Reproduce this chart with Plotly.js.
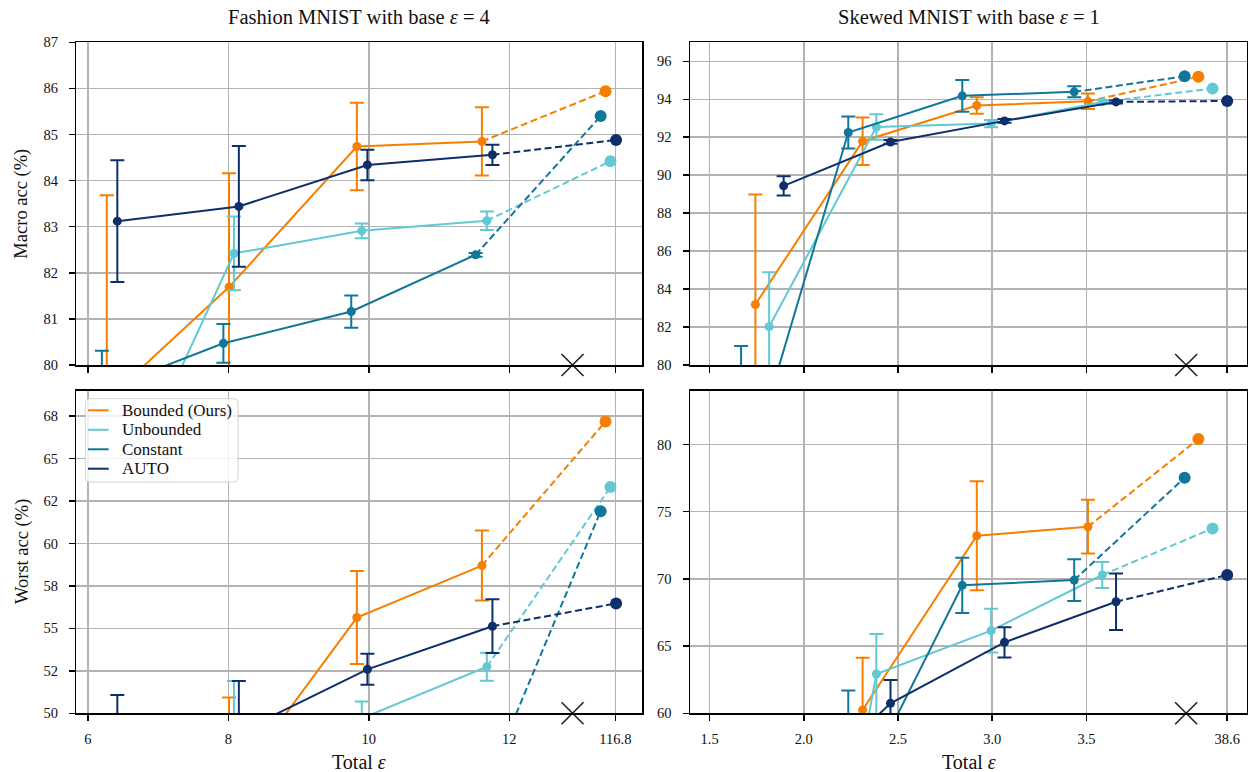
<!DOCTYPE html>
<html><head><meta charset="utf-8">
<script src="https://cdn.plot.ly/plotly-3.0.1.min.js"></script>
<style>html,body{margin:0;padding:0;background:#fff}#chart{width:1248px;height:772px}</style>
</head><body><div id="chart"></div>
<script>
// ---------------- data ----------------
const methodNames  = ["Bounded (Ours)", "Unbounded", "Constant", "AUTO"];
const methodColors = ["#f77f00", "#62c8d3", "#11779a", "#0d2f6b"];

// Fashion MNIST (base eps = 4): total eps per point; the last point sits in the "116.8" slot after the axis break
const fashionEpsBounded   = [6.27, 8.01, 9.83, 11.61, 13.37];
const fashionEpsUnbounded = [6.35, 8.08, 9.90, 11.68, 13.44];
const fashionEpsConstant  = [6.20, 7.93, 9.75, 11.52, 13.30];
const fashionEpsAuto      = [6.42, 8.15, 9.98, 11.76, 13.52];

const fashionMacroBounded   = [79.24, 81.69, 84.74, 84.85, 85.94];
const fashionMacroUnbounded = [76.70, 82.42, 82.91, 83.13, 84.42];
const fashionMacroConstant  = [79.45, 80.47, 81.16, 82.39, 85.40];
const fashionMacroAuto      = [83.12, 83.44, 84.34, 84.56, 84.88];
const fashionMacroErrBounded   = [4.44, 2.47, 0.95, 0.74, 0];
const fashionMacroErrUnbounded = [1.00, 0.80, 0.16, 0.20, 0];
const fashionMacroErrConstant  = [0.86, 0.42, 0.35, 0.04, 0];
const fashionMacroErrAuto      = [1.32, 1.31, 0.33, 0.22, 0];

const fashionWorstBounded   = [42.0, 45.43, 55.64, 58.70, 67.19];
const fashionWorstUnbounded = [40.0, 47.40, 49.70, 52.74, 63.33];
const fashionWorstConstant  = [38.0, 40.0, 42.0, 44.25, 61.90];
const fashionWorstAuto      = [47.5, 48.88, 52.59, 55.13, 56.47];
const fashionWorstErrBounded   = [3.0, 5.50, 2.74, 2.06, 0];
const fashionWorstErrUnbounded = [2.0, 4.50, 0.99, 0.83, 0];
const fashionWorstErrConstant  = [2.0, 2.0, 2.0, 2.0, 0];
const fashionWorstErrAuto      = [3.58, 3.02, 0.91, 1.58, 0];

// Skewed MNIST (base eps = 1): last point sits in the "38.6" slot after the axis break
const skewedEpsBounded   = [1.743, 2.312, 2.918, 3.508, 4.094];
const skewedEpsUnbounded = [1.816, 2.385, 2.994, 3.584, 4.169];
const skewedEpsConstant  = [1.667, 2.236, 2.841, 3.435, 4.021];
const skewedEpsAuto      = [1.893, 2.460, 3.065, 3.657, 4.247];

const skewedMacroBounded   = [83.19, 91.79, 93.67, 93.89, 95.18];
const skewedMacroUnbounded = [82.02, 92.54, 92.72, 93.86, 94.56];
const skewedMacroConstant  = [73.20, 92.25, 94.18, 94.39, 95.21];
const skewedMacroAuto      = [89.44, 91.75, 92.86, 93.86, 93.91];
const skewedMacroErrBounded   = [5.79, 1.25, 0.44, 0.41, 0];
const skewedMacroErrUnbounded = [2.86, 0.67, 0.19, 0.10, 0];
const skewedMacroErrConstant  = [7.80, 0.84, 0.84, 0.29, 0];
const skewedMacroErrAuto      = [0.51, 0.10, 0.10, 0.08, 0];

const skewedWorstBounded   = [45.0, 60.25, 73.21, 73.88, 80.40];
const skewedWorstUnbounded = [20.0, 62.92, 66.15, 70.29, 73.75];
const skewedWorstConstant  = [30.0, 52.60, 69.52, 69.91, 77.52];
const skewedWorstAuto      = [53.2, 60.74, 65.28, 68.30, 70.29];
const skewedWorstErrBounded   = [3.0, 3.89, 4.05, 2.00, 0];
const skewedWorstErrUnbounded = [2.0, 2.98, 1.63, 0.97, 0];
const skewedWorstErrConstant  = [3.0, 9.10, 2.05, 1.55, 0];
const skewedWorstErrAuto      = [2.0, 1.74, 1.13, 2.10, 0];

// tick labels
const fashionTickVals = [6, 8, 10, 12, 13.51];
const fashionTickText = ["6", "8", "10", "12", "116.8"];
const skewedTickVals  = [1.5, 2.0, 2.5, 3.0, 3.5, 4.247];
const skewedTickText  = ["1.5", "2.0", "2.5", "3.0", "3.5", "38.6"];
const fashionBreak = 12.90;
const skewedBreak  = 4.029;

const fashionMacroTicks = [80, 81, 82, 83, 84, 85, 86, 87];
const skewedMacroTicks  = [80, 82, 84, 86, 88, 90, 92, 94, 96];
const fashionWorstTickVals = [50, 52.5, 55, 57.5, 60, 62.5, 65, 67.5];
const fashionWorstTickText = ["50", "52", "55", "58", "60", "62", "65", "68"];
const skewedWorstTicks  = [60, 65, 70, 75, 80];

const panelTitles = ["Fashion MNIST with base <i>ε</i> = 4", "Skewed MNIST with base <i>ε</i> = 1"];

// ---------------- build ----------------
const FONT = "Liberation Serif, Times New Roman, serif";
const W = 1248, H = 772;
const px = v => v / W, py = v => 1 - v / H;
const traces = [];

function addSeries(xs, ys, errs, color, xa, ya) {
  traces.push({
    x: xs.slice(0, 4), y: ys.slice(0, 4), xaxis: xa, yaxis: ya,
    type: "scatter", mode: "lines+markers", showlegend: false, hoverinfo: "skip",
    line: {color: color, width: 2}, marker: {color: color, size: 9, opacity: 1, line: {width: 0}},
    error_y: {type: "data", array: errs.slice(0, 4), visible: true, color: color, thickness: 2, width: 7}
  });
  traces.push({
    x: xs.slice(3, 5), y: ys.slice(3, 5), xaxis: xa, yaxis: ya,
    type: "scatter", mode: "lines", showlegend: false, hoverinfo: "skip",
    line: {color: color, width: 2, dash: "7px,3.5px"}
  });
  traces.push({
    x: xs.slice(4, 5), y: ys.slice(4, 5), xaxis: xa, yaxis: ya,
    type: "scatter", mode: "markers", showlegend: false, hoverinfo: "skip",
    marker: {color: color, size: 12, opacity: 1, line: {width: 0}}
  });
}

const panels = [
  {xa: "x",  ya: "y",  eps: [fashionEpsBounded, fashionEpsUnbounded, fashionEpsConstant, fashionEpsAuto],
   v: [fashionMacroBounded, fashionMacroUnbounded, fashionMacroConstant, fashionMacroAuto],
   e: [fashionMacroErrBounded, fashionMacroErrUnbounded, fashionMacroErrConstant, fashionMacroErrAuto],
   brk: fashionBreak, ymin: 80},
  {xa: "x2", ya: "y2", eps: [skewedEpsBounded, skewedEpsUnbounded, skewedEpsConstant, skewedEpsAuto],
   v: [skewedMacroBounded, skewedMacroUnbounded, skewedMacroConstant, skewedMacroAuto],
   e: [skewedMacroErrBounded, skewedMacroErrUnbounded, skewedMacroErrConstant, skewedMacroErrAuto],
   brk: skewedBreak, ymin: 80},
  {xa: "x3", ya: "y3", eps: [fashionEpsBounded, fashionEpsUnbounded, fashionEpsConstant, fashionEpsAuto],
   v: [fashionWorstBounded, fashionWorstUnbounded, fashionWorstConstant, fashionWorstAuto],
   e: [fashionWorstErrBounded, fashionWorstErrUnbounded, fashionWorstErrConstant, fashionWorstErrAuto],
   brk: fashionBreak, ymin: 50},
  {xa: "x4", ya: "y4", eps: [skewedEpsBounded, skewedEpsUnbounded, skewedEpsConstant, skewedEpsAuto],
   v: [skewedWorstBounded, skewedWorstUnbounded, skewedWorstConstant, skewedWorstAuto],
   e: [skewedWorstErrBounded, skewedWorstErrUnbounded, skewedWorstErrConstant, skewedWorstErrAuto],
   brk: skewedBreak, ymin: 60}
];

panels.forEach(p => {
  for (let m = 0; m < 4; m++) addSeries(p.eps[m], p.v[m], p.e[m], methodColors[m], p.xa, p.ya);
  traces.push({
    x: [p.brk], y: [p.ymin], xaxis: p.xa, yaxis: p.ya, type: "scatter", mode: "markers",
    showlegend: false, hoverinfo: "skip", cliponaxis: false,
    marker: {symbol: "x-thin", size: 22, color: "#222", line: {color: "#222", width: 1.6}}
  });
});

const axisBase = {
  showline: true, linecolor: "#000", linewidth: 1.5, mirror: true,
  ticks: "outside", ticklen: 6, tickwidth: 1.5, tickcolor: "#000",
  showgrid: true, gridcolor: "#b3b3b3", gridwidth: 1.5, zeroline: false,
  tickfont: {family: FONT, size: 14.5, color: "#111"}, fixedrange: true
};
function ax(extra) { return Object.assign({}, axisBase, extra); }

const colL = [px(76.3), px(642)];
const colR = [px(690), px(1247)];
const rowT = [py(365), py(42.3)];
const rowB = [py(713.3), py(390.7)];

// legend (matplotlib-style box inside the lower-left panel)
const legBox = {x0: 85.3, x1: 238, y0: 398.7, y1: 482, r: 4};
const legRows = [410.3, 429.8, 449.3, 468.7];
const shapes = [];
const annotations = [];
{
  const b = legBox, r = b.r;
  const path = `M ${px(b.x0 + r)} ${py(b.y0)} L ${px(b.x1 - r)} ${py(b.y0)} Q ${px(b.x1)} ${py(b.y0)} ${px(b.x1)} ${py(b.y0 + r)} ` +
    `L ${px(b.x1)} ${py(b.y1 - r)} Q ${px(b.x1)} ${py(b.y1)} ${px(b.x1 - r)} ${py(b.y1)} L ${px(b.x0 + r)} ${py(b.y1)} ` +
    `Q ${px(b.x0)} ${py(b.y1)} ${px(b.x0)} ${py(b.y1 - r)} L ${px(b.x0)} ${py(b.y0 + r)} Q ${px(b.x0)} ${py(b.y0)} ${px(b.x0 + r)} ${py(b.y0)} Z`;
  shapes.push({type: "path", xref: "paper", yref: "paper", path: path, fillcolor: "rgba(255,255,255,0.8)",
    line: {color: "#d4d4d4", width: 1}, layer: "above"});
  methodNames.forEach((name, m) => {
    shapes.push({type: "line", xref: "paper", yref: "paper", x0: px(88), x1: px(108.7), y0: py(legRows[m]), y1: py(legRows[m]),
      line: {color: methodColors[m], width: 2}, layer: "above"});
    annotations.push({text: name, xref: "paper", yref: "paper", x: px(120), y: py(legRows[m]), xanchor: "left", yanchor: "middle",
      showarrow: false, font: {family: FONT, size: 17, color: "#111"}});
  });
}

const titleFont = {family: FONT, size: 20.5, color: "#111"};
annotations.push(
  {text: panelTitles[0], xref: "paper", yref: "paper", x: (colL[0] + colL[1]) / 2, y: py(17), xanchor: "center", yanchor: "middle", showarrow: false, font: titleFont},
  {text: panelTitles[1], xref: "paper", yref: "paper", x: (colR[0] + colR[1]) / 2, y: py(17), xanchor: "center", yanchor: "middle", showarrow: false, font: titleFont},
  {text: "Total <i>ε</i>", xref: "paper", yref: "paper", x: (colL[0] + colL[1]) / 2, y: py(762), xanchor: "center", yanchor: "middle", showarrow: false, font: {family: FONT, size: 20, color: "#111"}},
  {text: "Total <i>ε</i>", xref: "paper", yref: "paper", x: (colR[0] + colR[1]) / 2, y: py(762), xanchor: "center", yanchor: "middle", showarrow: false, font: {family: FONT, size: 20, color: "#111"}},
  {text: "Macro acc (%)", xref: "paper", yref: "paper", x: px(22), y: (rowT[0] + rowT[1]) / 2, xanchor: "center", yanchor: "middle", textangle: -90, showarrow: false, font: {family: FONT, size: 18.5, color: "#111"}},
  {text: "Worst acc (%)", xref: "paper", yref: "paper", x: px(22), y: (rowB[0] + rowB[1]) / 2, xanchor: "center", yanchor: "middle", textangle: -90, showarrow: false, font: {family: FONT, size: 18.5, color: "#111"}}
);

const layout = {
  width: W, height: H, margin: {l: 0, r: 0, t: 0, b: 0},
  paper_bgcolor: "#fff", plot_bgcolor: "#fff",
  font: {family: FONT, color: "#111"}, showlegend: false,
  xaxis:  ax({domain: colL, anchor: "y",  range: [5.836, 13.889], tickvals: fashionTickVals, ticktext: fashionTickText, showticklabels: false}),
  yaxis:  ax({domain: rowT, anchor: "x",  range: [80, 87], tickvals: fashionMacroTicks, ticklabelstandoff: 8}),
  xaxis2: ax({domain: colR, anchor: "y2", range: [1.396, 4.352], tickvals: skewedTickVals, ticktext: skewedTickText, showticklabels: false}),
  yaxis2: ax({domain: rowT, anchor: "x2", range: [80, 97], tickvals: skewedMacroTicks, ticklabelstandoff: 8}),
  xaxis3: ax({domain: colL, anchor: "y3", range: [5.836, 13.889], tickvals: fashionTickVals, ticktext: fashionTickText, ticklabelstandoff: 6}),
  yaxis3: ax({domain: rowB, anchor: "x3", range: [50, 69], tickvals: fashionWorstTickVals, ticktext: fashionWorstTickText, ticklabelstandoff: 8}),
  xaxis4: ax({domain: colR, anchor: "y4", range: [1.396, 4.352], tickvals: skewedTickVals, ticktext: skewedTickText, ticklabelstandoff: 6}),
  yaxis4: ax({domain: rowB, anchor: "x4", range: [60, 84], tickvals: skewedWorstTicks, ticklabelstandoff: 8}),
  shapes: shapes,
  annotations: annotations
};

Plotly.newPlot("chart", traces, layout, {displayModeBar: false, staticPlot: true});
</script>
</body></html>
